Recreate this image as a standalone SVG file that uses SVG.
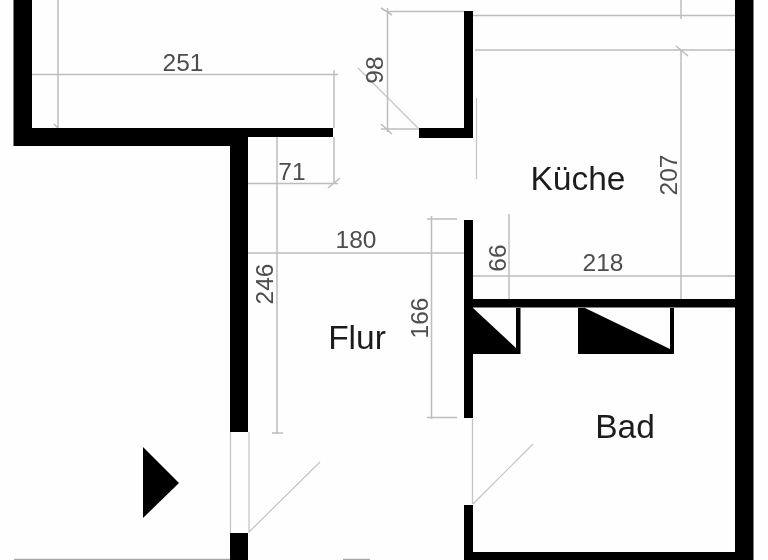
<svg xmlns="http://www.w3.org/2000/svg" width="768" height="560" viewBox="0 0 768 560">
<defs><filter id="soft" x="-5%" y="-5%" width="110%" height="110%"><feGaussianBlur stdDeviation="0.55"/></filter></defs>
<style>
.wall{fill:#000}
.dim{stroke:#bdbdbd;stroke-width:1.5;fill:none}
.thin{stroke:#c4c4c4;stroke-width:1.2;fill:none}
.base{stroke:#a8a8a8;stroke-width:1.5;fill:none}
.num{font-family:"Liberation Sans",Arial,sans-serif;font-size:24.500px;fill:#4d4d4d;text-anchor:middle}
.room{font-family:"Liberation Sans",Arial,sans-serif;font-size:33.500px;fill:#1e1e1e;text-anchor:middle}
</style>
<rect width="768" height="560" fill="#fefefe"/>
<g id="dimensions" filter="url(#soft)">
<path class="dim" d="M58 0V128M54 124L60 130M32 74.500H338M334 70V128M334 137V184M328 188L340 178M248 183.500H338M277 137V433M272 433H283M248 253H464M431.500 216V419M427 219H457M427 417.500H457M509 214V299M473 276H735M681 0V19M473 15.500H735M475 50H735M676 46L688 56M681 50V299M386 11.500H464M387.500 8V132M381 129H419M381 124L392 134M381 8L392 15"/>
<path class="thin" d="M358 68L418 128M476.500 98V179M230.500 432V533M249 432V533M249 532L320 462M472.500 419V504M473 504L533 444"/>
<path class="base" d="M14 559.500H230M343 559.500H370"/>
</g>
<g id="walls" filter="url(#soft)">
<path class="wall" d="M13.500 0H32V128H333V137H248V432H230V146H13.500Z"/>
<rect class="wall" x="230" y="533" width="18" height="27"/>
<path class="wall" d="M464 11H473V138H419V128H464Z"/>
<rect class="wall" x="735" y="0" width="18.500" height="560"/>
<rect class="wall" x="464" y="220" width="9" height="198"/>
<rect class="wall" x="464" y="299" width="271" height="8.500"/>
<path class="wall" d="M464 505H473V552H735V560H464Z"/>
<path class="wall" d="M473 308L516 348V308H520.500V354H473Z"/>
<path class="wall" d="M578 308H585L670 349V308H674V354H578Z"/>
<path class="wall" d="M143 447L179 483L143 518Z"/>
</g>
<g id="labels" filter="url(#soft)">
<text class="num" x="183" y="71">251</text>
<text class="num" x="292" y="180">71</text>
<text class="num" x="356" y="248">180</text>
<text class="num" x="603" y="271">218</text>
<text class="num" transform="translate(273 284) rotate(-90)">246</text>
<text class="num" transform="translate(383 70) rotate(-90)">98</text>
<text class="num" transform="translate(677 175) rotate(-90)">207</text>
<text class="num" transform="translate(506 258) rotate(-90)">66</text>
<text class="num" transform="translate(428 318) rotate(-90)">166</text>
<text class="room" x="578" y="190">Küche</text>
<text class="room" x="357" y="349">Flur</text>
<text class="room" x="625" y="438">Bad</text>
</g>
</svg>
